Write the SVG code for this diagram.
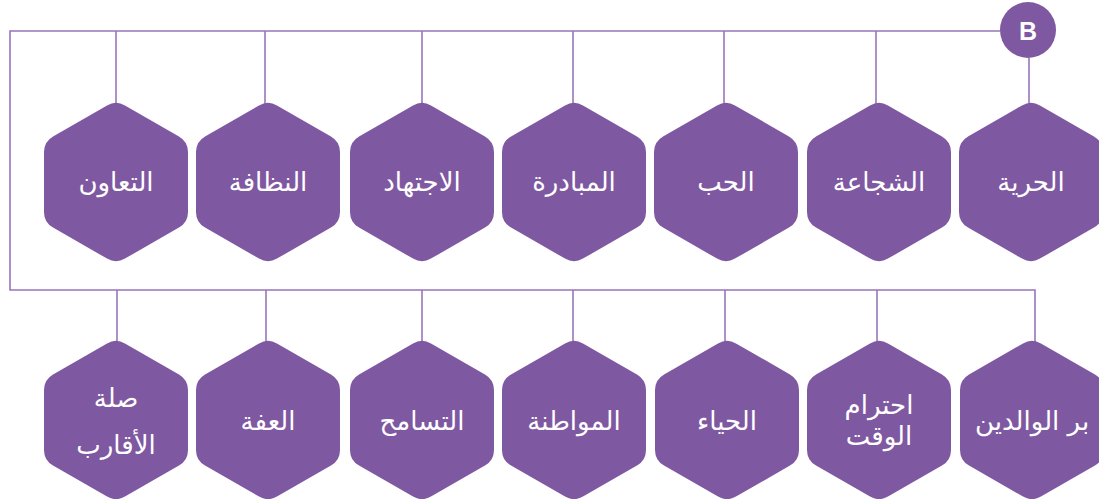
<svg xmlns="http://www.w3.org/2000/svg" xmlns:xlink="http://www.w3.org/1999/xlink" width="1099" height="499" viewBox="0 0 1099 499">
<style>
.hex{fill:#7F58A2;stroke:#7F58A2;stroke-width:36;stroke-linejoin:round}
.lbl{fill:#ffffff;font-family:"DejaVu Sans","Noto Sans",sans-serif;font-size:26px;text-anchor:middle;dominant-baseline:central}
.ln{fill:none;stroke:#9776BA;stroke-width:1.6}
</style>
<defs>
<polygon id="hexshape" class="hex" points="0,-61 54,-30 54,30 0,61 -54,30 -54,-30"/>
</defs>
<rect width="1099" height="499" fill="#ffffff"/>
<g id="connectors">
<polyline class="ln" points="1000,31 10,31 10,290 1035,290 1035,342"/>
<line class="ln" x1="1029" y1="58" x2="1029" y2="104"/>
<line class="ln" x1="116" y1="31" x2="116" y2="104"/>
<line class="ln" x1="265" y1="31" x2="265" y2="104"/>
<line class="ln" x1="422" y1="31" x2="422" y2="104"/>
<line class="ln" x1="573" y1="31" x2="573" y2="104"/>
<line class="ln" x1="724" y1="31" x2="724" y2="104"/>
<line class="ln" x1="876" y1="31" x2="876" y2="104"/>
<line class="ln" x1="117" y1="290" x2="117" y2="342"/>
<line class="ln" x1="266" y1="290" x2="266" y2="342"/>
<line class="ln" x1="422" y1="290" x2="422" y2="342"/>
<line class="ln" x1="573" y1="290" x2="573" y2="342"/>
<line class="ln" x1="725" y1="290" x2="725" y2="342"/>
<line class="ln" x1="877" y1="290" x2="877" y2="342"/>
</g>
<g id="node-B">
<circle cx="1028" cy="30" r="28" fill="#7F58A2"/>
<text x="1028" y="31" fill="#ffffff" font-family="Liberation Sans, Arial, sans-serif" font-weight="bold" font-size="25" text-anchor="middle" dominant-baseline="central">B</text>
</g>
<g id="node-hurriya"><use xlink:href="#hexshape" x="1031" y="182"/><text class="lbl" x="1031" y="182">الحرية</text></g>
<g id="node-shajaa"><use xlink:href="#hexshape" x="879" y="182"/><text class="lbl" x="879" y="182">الشجاعة</text></g>
<g id="node-hubb"><use xlink:href="#hexshape" x="726" y="182"/><text class="lbl" x="726" y="182">الحب</text></g>
<g id="node-mubadara"><use xlink:href="#hexshape" x="574" y="182"/><text class="lbl" x="574" y="182">المبادرة</text></g>
<g id="node-ijtihad"><use xlink:href="#hexshape" x="422" y="182"/><text class="lbl" x="422" y="182">الاجتهاد</text></g>
<g id="node-nazafa"><use xlink:href="#hexshape" x="268" y="182"/><text class="lbl" x="268" y="182">النظافة</text></g>
<g id="node-taawun"><use xlink:href="#hexshape" x="116" y="182"/><text class="lbl" x="116" y="182">التعاون</text></g>
<g id="node-birr"><use xlink:href="#hexshape" x="1032" y="420"/><text class="lbl" x="1032" y="421">بر الوالدين</text></g>
<g id="node-ihtiram"><use xlink:href="#hexshape" x="879" y="420"/><text class="lbl" x="879" y="405">احترام</text><text class="lbl" x="879" y="436">الوقت</text></g>
<g id="node-haya"><use xlink:href="#hexshape" x="727" y="420"/><text class="lbl" x="727" y="421">الحياء</text></g>
<g id="node-muwatana"><use xlink:href="#hexshape" x="574" y="420"/><text class="lbl" x="574" y="421">المواطنة</text></g>
<g id="node-tasamuh"><use xlink:href="#hexshape" x="422" y="420"/><text class="lbl" x="422" y="421">التسامح</text></g>
<g id="node-iffa"><use xlink:href="#hexshape" x="268" y="420"/><text class="lbl" x="268" y="421">العفة</text></g>
<g id="node-sila"><use xlink:href="#hexshape" x="116" y="420"/><text class="lbl" x="116" y="398">صلة</text><text class="lbl" x="116" y="445">الأقارب</text></g>
</svg>
